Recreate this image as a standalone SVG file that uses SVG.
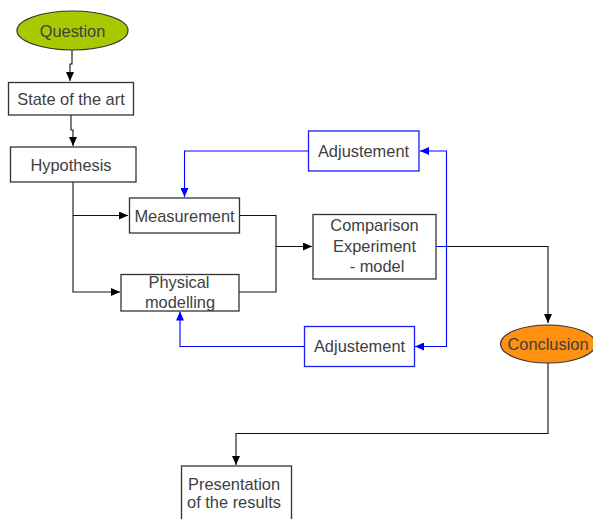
<svg xmlns="http://www.w3.org/2000/svg" width="593" height="519" viewBox="0 0 593 519">
<style>
.box{fill:#fff;stroke:#333;stroke-width:1.3}
.bbox{fill:#fff;stroke:#1a1aff;stroke-width:1.3}
text{font-family:"Liberation Sans",Arial,sans-serif;font-size:16.4px;fill:#404040;text-anchor:middle}
.k{fill:none;stroke:#111;stroke-width:1.1}
.b{fill:none;stroke:#0000ff;stroke-width:1.1}
</style>
<defs>
<marker id="ak" markerWidth="10" markerHeight="8" refX="9" refY="4" orient="auto" markerUnits="userSpaceOnUse"><path d="M0,0 L9,4 L0,8 Z" fill="#000"/></marker>
<marker id="ab" markerWidth="10" markerHeight="8" refX="9" refY="4" orient="auto" markerUnits="userSpaceOnUse"><path d="M0,0 L9,4 L0,8 Z" fill="#0000ff"/></marker>
</defs>
<rect width="593" height="519" fill="#fff"/>
<g id="connectors">
<path class="k" d="M72,50 V64 H70 V81" marker-end="url(#ak)"/>
<path class="k" d="M71,115 V130 H73 V146" marker-end="url(#ak)"/>
<path class="k" d="M73,182 V292 H120" marker-end="url(#ak)"/>
<path class="k" d="M73,215.5 H128" marker-end="url(#ak)"/>
<path class="k" d="M239,215.5 H276 V292 H239"/>
<path class="k" d="M276,246.5 H312" marker-end="url(#ak)"/>
<path class="k" d="M436,246.5 H548 V323" marker-end="url(#ak)"/>
<path class="k" d="M548,363 V433.5 H236 V465" marker-end="url(#ak)"/>
<path class="b" d="M436,246.5 H446.5 V151 H420" marker-end="url(#ab)"/>
<path class="b" d="M446.5,246.5 V346.5 H415" marker-end="url(#ab)"/>
<path class="b" d="M308,151 H184.5 V197" marker-end="url(#ab)"/>
<path class="b" d="M304,346.5 H180 V311.5" marker-end="url(#ab)"/>
</g>
<g id="question">
<ellipse cx="72.5" cy="30.5" rx="55.5" ry="19.5" fill="#a8c800" stroke="#333" stroke-width="1.2"/>
<text x="72.5" y="36.5">Question</text>
</g>
<g id="state">
<rect class="box" x="8.5" y="82.5" width="125" height="32.5"/>
<text x="71" y="104.5">State of the art</text>
</g>
<g id="hypothesis">
<rect class="box" x="10.5" y="147" width="125.5" height="35"/>
<text x="71" y="170.5">Hypothesis</text>
</g>
<g id="measurement">
<rect class="box" x="129.5" y="198" width="110" height="35"/>
<text x="184.5" y="222.3">Measurement</text>
</g>
<g id="physical">
<rect class="box" x="121" y="274.5" width="118" height="36.5"/>
<text x="179" y="287.8">Physical</text>
<text x="180" y="307.8">modelling</text>
</g>
<g id="comparison">
<rect class="box" x="313" y="214.5" width="123" height="64.5"/>
<text x="374.5" y="231.3">Comparison</text>
<text x="374.5" y="251.8">Experiment</text>
<text x="377" y="272.3">- model</text>
</g>
<g id="adjust1">
<rect class="bbox" x="308.5" y="131" width="110.5" height="40"/>
<text x="363.5" y="157.3">Adjustement</text>
</g>
<g id="adjust2">
<rect class="bbox" x="304.5" y="326.5" width="110" height="40"/>
<text x="359.5" y="352.3">Adjustement</text>
</g>
<g id="conclusion">
<ellipse cx="548" cy="344" rx="47.5" ry="19" fill="#ff9010" stroke="#333" stroke-width="1.2"/>
<text x="548" y="350">Conclusion</text>
</g>
<g id="presentation">
<rect class="box" x="181.5" y="466" width="110" height="60"/>
<text x="234" y="489.7">Presentation</text>
<text x="234" y="508.3">of the results</text>
</g>
</svg>
